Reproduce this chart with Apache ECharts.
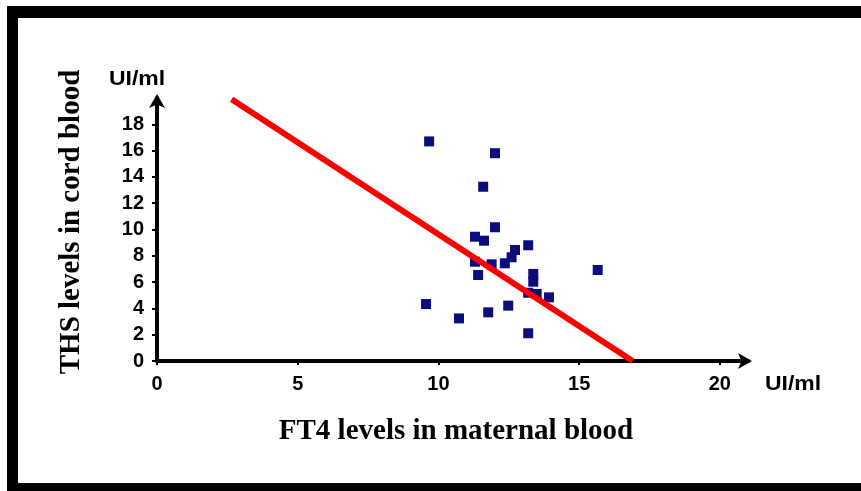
<!DOCTYPE html>
<html><head><meta charset="utf-8">
<script src="https://cdn.jsdelivr.net/npm/echarts@6/dist/echarts.min.js"></script>
<style>html,body{margin:0;padding:0;background:#fff}#c{width:861px;height:491px}</style>
</head><body><div id="c"></div>
<script>
var ft4 = [9.67,12.01,11.59,12.01,11.30,11.62,13.19,12.72,12.60,12.36,11.30,11.89,11.41,13.37,13.37,15.66,13.19,13.49,13.93,9.56,10.73,11.77,12.48,13.19];
var tsh = [16.7,15.8,13.25,10.17,9.45,9.15,8.8,8.44,7.89,7.43,7.55,7.35,6.54,6.62,6.03,6.92,5.19,5.1,4.84,4.33,3.24,3.7,4.21,2.11];
var trendX = [2.65, 16.9];
var trendY = [19.9, 0];
var xTicks = [0,5,10,15,20];
var yTicks = [0,2,4,6,8,10,12,14,16,18];
var xTitle = 'FT4 levels in maternal blood';
var yTitle = 'THS levels in cord blood';
var unit = 'UI/ml';

var chart = echarts.init(document.getElementById('c'), null, {renderer:'canvas'});
var pts = ft4.map(function(v,i){return [v, tsh[i]];});
var trend = trendX.map(function(v,i){return [v, trendY[i]];});
var lblFont = {fontFamily:'Liberation Sans', fontWeight:'bold', fontSize:20, color:'#000'};
chart.setOption({
  animation:false,
  backgroundColor:'#fff',
  grid:{left:157, right:113, top:98, bottom:130},
  xAxis:{type:'value', min:0, max:21, interval:5,
    splitLine:{show:false},
    axisLine:{lineStyle:{color:'#000', width:4}, symbol:['none','arrow'], symbolSize:[12,14], symbolOffset:[0,4]},
    axisTick:{show:true, customValues:xTicks, length:4, lineStyle:{color:'#000', width:2}},
    axisLabel:Object.assign({customValues:xTicks, margin:13}, lblFont)
  },
  yAxis:{type:'value', min:0, max:20, interval:2,
    splitLine:{show:false},
    axisLine:{lineStyle:{color:'#000', width:4}, symbol:['none','arrow'], symbolSize:[12,14], symbolOffset:[0,4]},
    axisTick:{show:true, customValues:yTicks, length:5, lineStyle:{color:'#000', width:2}},
    axisLabel:Object.assign({customValues:yTicks, margin:13}, lblFont)
  },
  series:[
    {type:'line', data:trend, symbol:'none', lineStyle:{color:'#ff0000', width:6}, z:3},
    {type:'scatter', data:pts, symbol:'rect', symbolSize:10, itemStyle:{color:'#0c0c7c', opacity:1}, z:2}
  ],
  graphic:[
    {type:'rect', shape:{x:7, y:6, width:11, height:485}, style:{fill:'#000'}},
    {type:'rect', shape:{x:7, y:6, width:854, height:12}, style:{fill:'#000'}},
    {type:'rect', shape:{x:7, y:483, width:854, height:8}, style:{fill:'#000'}},
    {type:'text', x:137, y:79, scaleX:1.15, style:{text:unit, fill:'#000', font:'bold 20px "Liberation Sans"', textAlign:'center', textVerticalAlign:'middle'}},
    {type:'text', x:793, y:384, scaleX:1.15, style:{text:unit, fill:'#000', font:'bold 20px "Liberation Sans"', textAlign:'center', textVerticalAlign:'middle'}},
    {type:'text', x:456, y:432, style:{text:xTitle, fill:'#000', font:'bold 29px "Liberation Serif"', textAlign:'center', textVerticalAlign:'middle'}},
    {type:'text', x:72, y:222, rotation:Math.PI/2, style:{text:yTitle, fill:'#000', font:'bold 29px "Liberation Serif"', textAlign:'center', textVerticalAlign:'middle'}}
  ]
});
</script></body></html>
